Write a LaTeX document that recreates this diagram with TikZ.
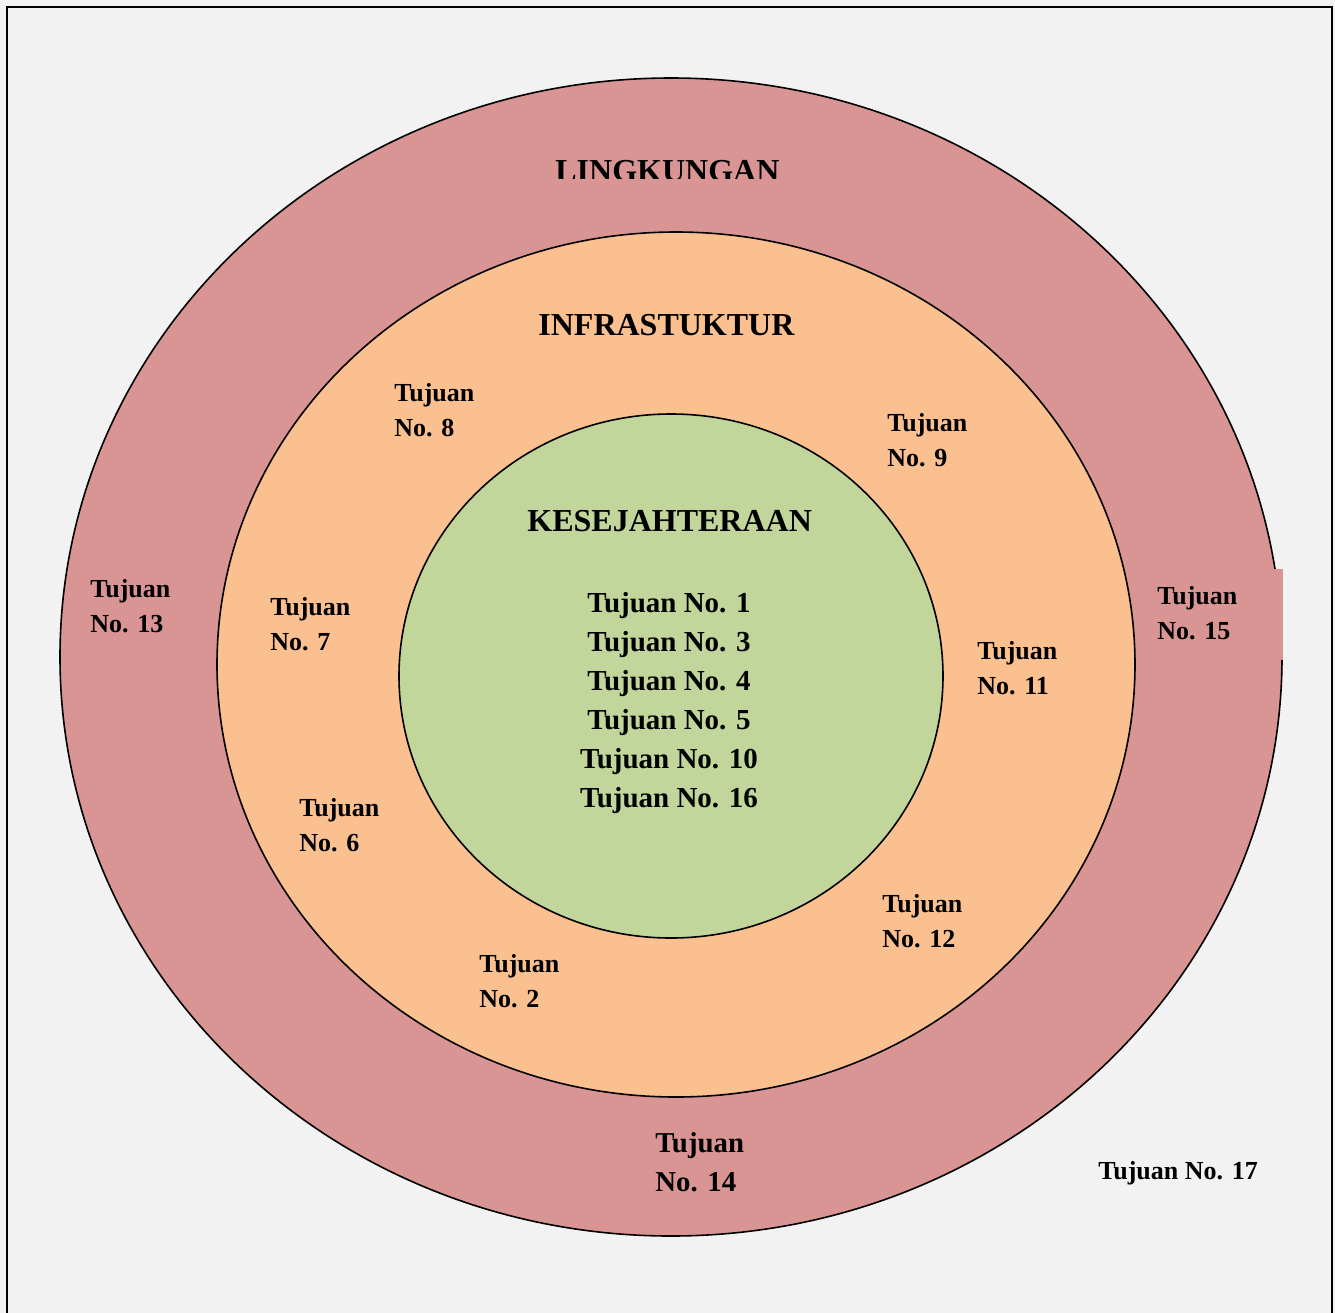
\documentclass[tikz,border=0pt]{standalone}
\usepackage{fontspec}
\setmainfont{Liberation Serif}
\usetikzlibrary{shapes.geometric}
\definecolor{bgc}{HTML}{F2F2F2}
\definecolor{outerc}{HTML}{D99594}
\definecolor{midc}{HTML}{FAC08F}
\definecolor{innerc}{HTML}{C2D69B}
\tikzset{
  ring/.style={ellipse, draw=black, line width=0.8pt, inner sep=0pt},
  lbl/.style={anchor=west, align=left, inner sep=0pt, font=\fontsize{13}{17.5}\selectfont\bfseries},
  bigt/.style={anchor=base west, inner sep=0pt, font=\fontsize{16}{19}\selectfont\bfseries},
}
\begin{document}
\begin{tikzpicture}[x=0.5pt,y=-0.5pt]
\useasboundingbox (0,0) rectangle (1335,1313);
\fill[bgc] (0,0) rectangle (1335,1313);
\draw[line width=1pt] (7,1320) -- (7,7) -- (1332,7) -- (1332,1320);
\node[ring, fill=outerc, minimum width=611pt, minimum height=579pt] (outer) at (671,657) {};
\fill[outerc] (1150,569) rectangle (1283,660);
\node[ring, fill=midc, minimum width=459pt, minimum height=432.5pt] (mid) at (676,664.5) {};
\node[ring, fill=innerc, minimum width=272pt, minimum height=262pt] (inner) at (671,676) {};
\begin{scope}
\clip (0,0) rectangle (1335,178);
\node[bigt] (ling) at (555,181) {LINGKUNGAN};
\end{scope}
\node[bigt] (infra) at (538,335) {INFRASTUKTUR};
\node[bigt] (kese) at (527,531) {KESEJAHTERAAN};
\node[align=center, inner sep=0pt, font=\fontsize{14.5}{19.5}\selectfont\bfseries] (list) at (669,703)
  {Tujuan No. 1\\Tujuan No. 3\\Tujuan No. 4\\Tujuan No. 5\\Tujuan No. 10\\Tujuan No. 16};
\node[lbl] (t8) at (394,410) {Tujuan\\No. 8};
\node[lbl] (t9) at (887,440) {Tujuan\\No. 9};
\node[lbl] (t13) at (90,606) {Tujuan\\No. 13};
\node[lbl] (t7) at (270,624) {Tujuan\\No. 7};
\node[lbl] (t15) at (1157,613) {Tujuan\\No. 15};
\node[lbl] (t11) at (977,668) {Tujuan\\No. 11};
\node[lbl] (t6) at (299,825) {Tujuan\\No. 6};
\node[lbl] (t12) at (882,921) {Tujuan\\No. 12};
\node[lbl] (t2) at (479,981) {Tujuan\\No. 2};
\node[lbl, font=\fontsize{14.4}{19.5}\selectfont\bfseries] (t14) at (655,1162) {Tujuan\\No. 14};
\node[lbl] (t17) at (1098,1173) {Tujuan No. 17};
\end{tikzpicture}
\end{document}
